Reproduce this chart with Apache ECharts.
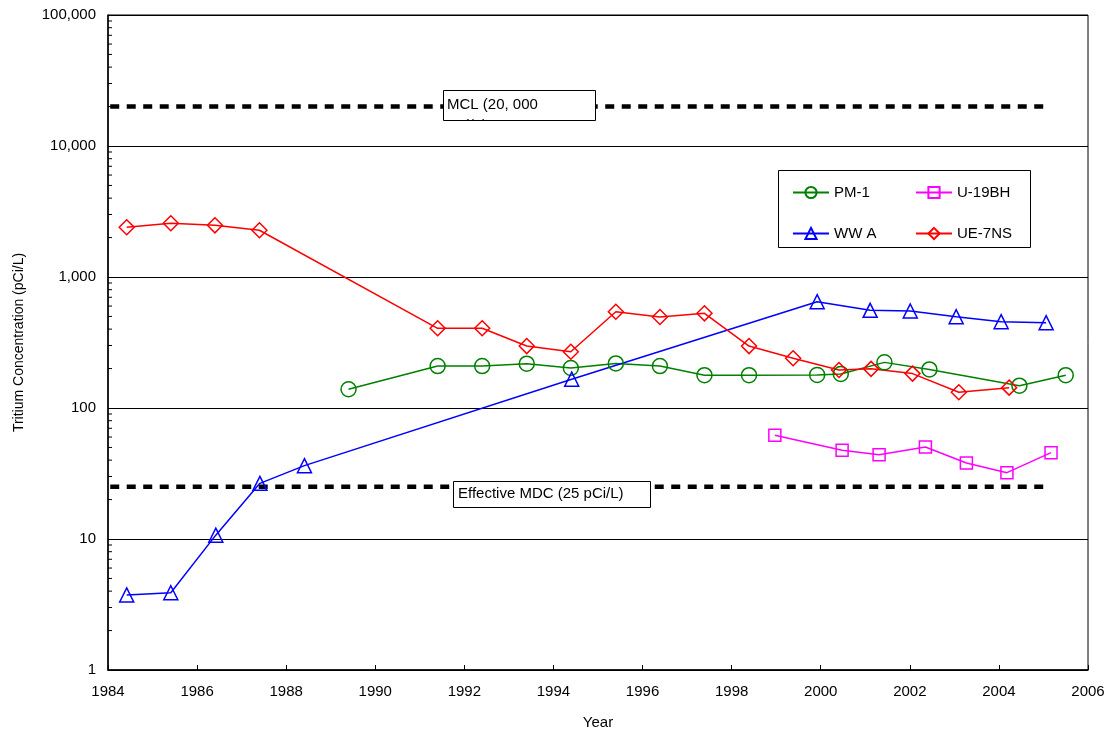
<!DOCTYPE html>
<html>
<head>
<meta charset="utf-8">
<script src="https://cdn.jsdelivr.net/npm/echarts@6/dist/echarts.min.js"></script>
<style>
html,body{margin:0;padding:0;background:#fff;}
#chart{width:1109px;height:732px;}
</style>
</head>
<body>
<div id="chart"></div>
<script>
// ---- data ----
const pm1Years = [1989.40,1991.40,1992.40,1993.40,1994.39,1995.40,1996.39,1997.39,1998.39,1999.92,2000.45,2001.43,2002.44,2004.46,2005.50];
const pm1Vals  = [139,209,209,218,202,219,209,178,178,179,182,223,197,148,178];

const wwaYears = [1984.42,1985.41,1986.42,1987.41,1988.41,1994.41,1999.92,2001.11,2002.01,2003.04,2004.05,2005.06];
const wwaVals  = [3.74,3.89,10.7,26.6,36.3,166,648,557,550,498,456,448];

const ue7Years = [1984.42,1985.41,1986.40,1987.40,1991.40,1992.40,1993.40,1994.39,1995.40,1996.39,1997.39,1998.39,1999.38,2000.41,2001.13,2002.06,2003.10,2004.23];
const ue7Vals  = [2400,2570,2480,2275,406,406,297,269,543,495,528,297,240,195,199,183,132,143];

const u19Years = [1998.97,2000.48,2001.31,2002.35,2003.27,2004.18,2005.17];
const u19Vals  = [61.9,47.5,44,50.4,38,32.1,45.6];

const mclYears = [1984.05, 2005.05];
const mclValue = 20000;
const mdcYears = [1984.05, 2005.05];
const mdcValue = 25;

const yMinorTicks = [];
[1,10,100,1000,10000].forEach(d => { for (let k = 2; k <= 9; k++) yMinorTicks.push(k * d); });

const xMin = 1984, xMax = 2006, xStep = 2;
const yMin = 1, yMax = 100000;

const mclLabel = 'MCL (20, 000\npCi/L)';
const mdcLabel = 'Effective MDC (25 pCi/L)';

// ---- helpers ----
const zip = (xs, ys) => xs.map((x, i) => [x, ys[i]]);
const FONT = "'Liberation Sans', Arial, sans-serif";

function dataSeries(name, xs, ys, color, symbol, size) {
  return {
    name, type: 'line', data: zip(xs, ys),
    symbol, symbolSize: size,
    lineStyle: { color, width: 1.5 },
    itemStyle: { color: 'rgba(255,255,255,0)', borderColor: color, borderWidth: 1.5 },
    emphasis: { disabled: true },
    z: 3
  };
}

const chart = echarts.init(document.getElementById('chart'), null, { renderer: 'canvas' });

const option = {
  backgroundColor: '#fff',
  animation: false,
  textStyle: { fontFamily: FONT },
  grid: { left: 108, right: 21, top: 15, bottom: 62, show: true, borderColor: '#000', borderWidth: 1,
          backgroundColor: 'transparent', containLabel: false, outerBoundsMode: 'none' },
  xAxis: {
    type: 'value', min: xMin, max: xMax, interval: xStep,
    name: 'Year', nameLocation: 'middle', nameGap: 45,
    nameTextStyle: { color: '#000', fontSize: 15, fontFamily: FONT },
    axisLine: { show: true, lineStyle: { color: '#000', width: 1.5 } },
    axisTick: { show: true, inside: true, length: 5, lineStyle: { color: '#000' } },
    axisLabel: { color: '#000', fontSize: 15, margin: 14, fontFamily: FONT, formatter: v => String(v) },
    splitLine: { show: false }
  },
  yAxis: {
    type: 'log', logBase: 10, min: yMin, max: yMax,
    name: 'Tritium Concentration (pCi/L)', nameLocation: 'middle', nameGap: 82, nameRotate: 90,
    nameTextStyle: { color: '#000', fontSize: 14, fontFamily: FONT },
    axisLine: { show: true, lineStyle: { color: '#000', width: 1.5 } },
    axisTick: { show: true, inside: true, length: 6, lineStyle: { color: '#000' } },
    axisLabel: { color: '#000', fontSize: 15, margin: 12, fontFamily: FONT,
      formatter: v => Number(v).toLocaleString('en-US') },
    splitLine: { show: true, lineStyle: { color: '#000', width: 1 } }
  },
  legend: [
    {
      data: ['PM-1', 'WW A'], orient: 'vertical', left: 787, top: 180,
      itemWidth: 36, itemHeight: 14, itemGap: 26,
      textStyle: { color: '#000', fontSize: 15, fontFamily: FONT },
      selectedMode: false
    },
    {
      data: ['U-19BH', 'UE-7NS'], orient: 'vertical', left: 910, top: 180,
      itemWidth: 36, itemHeight: 14, itemGap: 26,
      textStyle: { color: '#000', fontSize: 15, fontFamily: FONT },
      selectedMode: false
    }
  ],
  graphic: [
    { type: 'rect', z: 1, shape: { x: 778.5, y: 170.5, width: 252, height: 77 },
      style: { fill: '#fff', stroke: '#000', lineWidth: 1 } },
    // MCL annotation box
    { type: 'rect', z: 20, shape: { x: 443.5, y: 90.5, width: 152, height: 30 },
      style: { fill: '#fff', stroke: null } },
    { type: 'text', z: 21, left: 447, top: 94.5,
      style: { text: mclLabel, fontSize: 15, fontFamily: FONT, fill: '#000', lineHeight: 21 } },
    { type: 'rect', z: 22, shape: { x: 443, y: 121, width: 154, height: 18 },
      style: { fill: '#fff', stroke: null } },
    { type: 'rect', z: 23, shape: { x: 443.5, y: 90.5, width: 152, height: 30 },
      style: { fill: null, stroke: '#000', lineWidth: 1 } },
    // MDC annotation box
    { type: 'rect', z: 20, shape: { x: 453.5, y: 481.5, width: 197, height: 26 },
      style: { fill: '#fff', stroke: '#000', lineWidth: 1 } },
    { type: 'text', z: 21, left: 458, top: 486,
      style: { text: mdcLabel, fontSize: 15, fontFamily: FONT, fill: '#000' } }
  ],
  series: [
    {
      name: 'MCL', type: 'line', data: mclYears.map(x => [x, mclValue]),
      symbol: 'none', lineStyle: { color: '#000', width: 4.5, type: [9, 7.5] },
      emphasis: { disabled: true }, z: 2
    },
    {
      name: 'MDC', type: 'line', data: mdcYears.map(x => [x, mdcValue]),
      symbol: 'none', lineStyle: { color: '#000', width: 4.5, type: [9, 7.5] },
      emphasis: { disabled: true }, z: 2
    },
    {
      name: 'minorTicks', type: 'custom', silent: true, clip: false, z: 4,
      data: yMinorTicks.map(v => [xMin, v]),
      renderItem: (params, api) => {
        const p = api.coord([api.value(0), api.value(1)]);
        return { type: 'line', shape: { x1: p[0], y1: p[1], x2: p[0] + 4, y2: p[1] },
                 style: { stroke: '#000', lineWidth: 1 } };
      }
    },
    dataSeries('PM-1', pm1Years, pm1Vals, '#008000', 'circle', 15),
    dataSeries('U-19BH', u19Years, u19Vals, '#FF00FF', 'rect', 12),
    dataSeries('WW A', wwaYears, wwaVals, '#0000FF', 'triangle', 14),
    dataSeries('UE-7NS', ue7Years, ue7Vals, '#FF0000', 'diamond', 15)
  ]
};
chart.setOption(option);
</script>
</body>
</html>
